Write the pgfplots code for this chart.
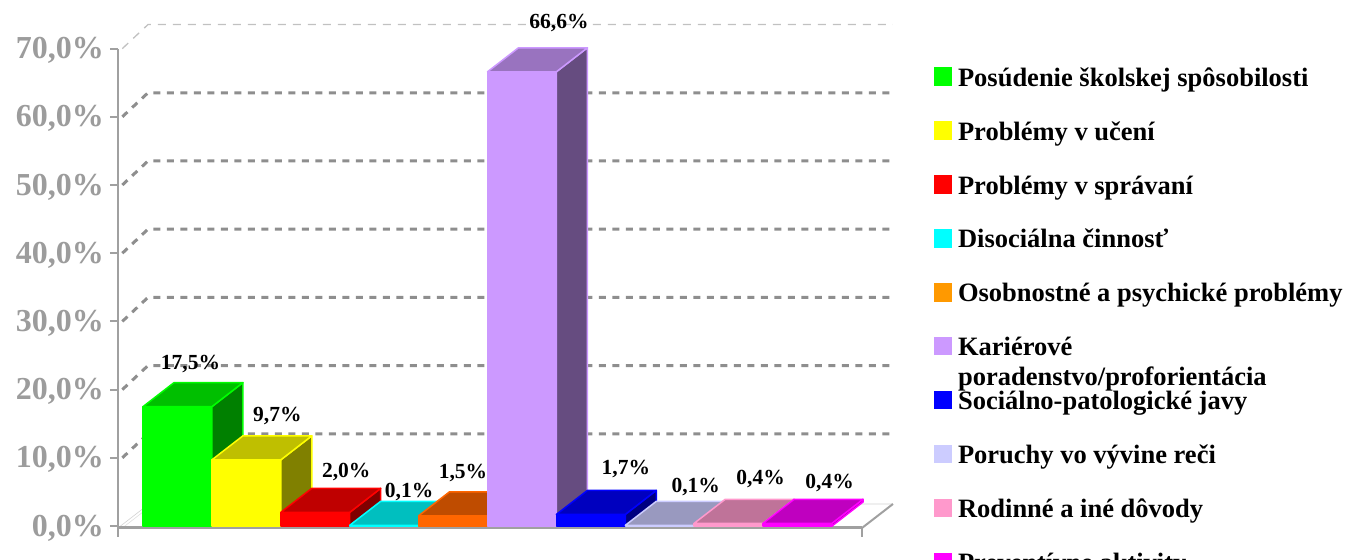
\documentclass[border=0pt]{standalone}
\usepackage{fontspec}
\setmainfont{Liberation Serif}
\usepackage{pgfplots}
\pgfplotsset{compat=1.18}

\definecolor{gridgray}{HTML}{8E8E8E}
\definecolor{axgray}{HTML}{A0A0A0}
\definecolor{lblgray}{HTML}{9C9C9C}
\definecolor{cGreen}{HTML}{00FF00}
\definecolor{cYellow}{HTML}{FFFF00}
\definecolor{cRed}{HTML}{FF0000}
\definecolor{cCyan}{HTML}{00FFFF}
\definecolor{cOrange}{HTML}{FF6600}
\definecolor{cOrangeLeg}{HTML}{FF9900}
\definecolor{cPurple}{HTML}{CC99FF}
\definecolor{cBlue}{HTML}{0000FF}
\definecolor{cLav}{HTML}{CCCCFF}
\definecolor{cPink}{HTML}{FF99CC}
\definecolor{cMag}{HTML}{FF00FF}

\newcommand\dx{0.45}
\newcommand\dy{3.52}

% #1 index, #2 value, #3 colour, #4 label xshift, #5 label yshift
\newcommand\tdbar[5]{%
  \pgfmathsetmacro\xa{#1}%
  \pgfmathsetmacro\xb{#1+1}%
  \pgfmathsetmacro\xc{#1+\dx}%
  \pgfmathsetmacro\xd{#1+1+\dx}%
  \pgfmathsetmacro\yt{#2+\dy}%
  \addplot[forget plot, fill=#3, draw=#3, line width=1.5pt, line join=round]
    coordinates {(\xa,0) (\xb,0) (\xb,#2) (\xa,#2)} -- cycle;
  \addplot[forget plot, fill=#3!50!black, draw=#3, line width=1.5pt, line join=round]
    coordinates {(\xb,0) (\xd,\dy) (\xd,\yt) (\xb,#2)} -- cycle;
  \addplot[forget plot, fill=#3!75!black, draw=#3, line width=1.5pt, line join=round]
    coordinates {(\xa,#2) (\xb,#2) (\xd,\yt) (\xc,\yt)} -- cycle;
  \node[font=\bfseries\fontsize{21.5}{24}\selectfont, inner sep=0pt, xshift=#4pt, yshift=#5pt]
    at (axis cs:#1+0.5+\dx,#2+\dy)
    {\pgfmathprintnumber[fixed,fixed zerofill,precision=1,use comma,assume math mode=true]{#2}\%};
}

\begin{document}
\begin{tikzpicture}
\begin{axis}[
  x=68.9pt, y=6.82pt,
  xmin=-0.363, xmax=10.885,
  ymin=-1.6, ymax=70,
  clip=false,
  axis x line=none,
  axis y line*=left,
  y axis line style={axgray, line width=2.5pt},
  ytick={0,10,...,70},
  tick align=outside,
  major tick length=8pt,
  tick style={axgray, line width=2pt},
  /pgf/number format/assume math mode=true,
  yticklabel={\pgfmathprintnumber[fixed,fixed zerofill,precision=1,use comma]{\tick}\%},
  yticklabel style={font=\bfseries\fontsize{32}{36}\selectfont, text=lblgray, inner sep=0pt, xshift=-6pt, yshift=-2pt},
  legend style={at={(1.0523,0.9618)}, anchor=north west, draw=none, fill=none,
    inner sep=0pt, outer sep=0pt,
    font=\bfseries\fontsize{26.5}{30}\selectfont,
    row sep=28.9pt,
    nodes={inner sep=0pt, text height=19pt, text depth=6pt},
    /tikz/every odd column/.style={column sep=6pt}},
  legend cell align=left,
  legend image code/.code={\fill[#1, draw=none] (0pt,-6.2pt) rectangle (18.5pt,12.3pt);},
]
% back wall gridlines with side connectors
\pgfplotsinvokeforeach{10,20,30,40,50,60}{
  \draw[gridgray, line width=3pt, dash pattern=on 7pt off 6.5pt]
    (axis cs:-0.30,#1) -- (axis cs:0.072,#1+\dy) -- (axis cs:10.885,#1+\dy);
}
\draw[gridgray!55, line width=1.3pt, dash pattern=on 8pt off 7pt]
  (axis cs:-0.30,70) -- (axis cs:0.072,70+\dy) -- (axis cs:10.885,70+\dy);
% floor
\draw[gray!35, line width=0.6pt] (axis cs:-0.363,-0.29) -- (axis cs:0.087,3.23) -- (axis cs:10.885,3.23);
\draw[gray!25, line width=0.6pt] (axis cs:-0.30,-0.29) -- (axis cs:0.12,3.0);
\draw[axgray, line width=2pt] (axis cs:10.435,-0.29) -- (axis cs:10.885,3.23);
\draw[axgray, line width=3pt] (axis cs:-0.363,-0.29) -- (axis cs:10.435,-0.29);
\draw[axgray, line width=2.5pt] (axis cs:10.435,-0.29) -- (axis cs:10.435,-1.6);

\tdbar{0}{17.5}{cGreen}{-18}{19}
\tdbar{1}{9.7}{cYellow}{0}{20}
\tdbar{2}{2.0}{cRed}{0}{16}
\tdbar{3}{0.1}{cCyan}{-6}{9}
\tdbar{4}{1.5}{cOrange}{-21}{19}
\tdbar{5}{66.6}{cPurple}{6}{25}
\tdbar{6}{1.7}{cBlue}{4}{21}
\tdbar{7}{0.1}{cLav}{5}{14}
\tdbar{8}{0.4}{cPink}{1}{20}
\tdbar{9}{0.4}{cMag}{1}{16}

\addlegendimage{fill=cGreen}\addlegendentry{Posúdenie školskej spôsobilosti}
\addlegendimage{fill=cYellow}\addlegendentry{Problémy v učení}
\addlegendimage{fill=cRed}\addlegendentry{Problémy v správaní}
\addlegendimage{fill=cCyan}\addlegendentry{Disociálna činnosť}
\addlegendimage{fill=cOrangeLeg}\addlegendentry{Osobnostné a psychické problémy}
\addlegendimage{fill=cPurple}\addlegendentry{\makebox[0pt][l]{\raisebox{-30pt}[0pt][0pt]{poradenstvo/proforientácia}}Kariérové}
\addlegendimage{fill=cBlue}\addlegendentry{Sociálno-patologické javy}
\addlegendimage{fill=cLav}\addlegendentry{Poruchy vo vývine reči}
\addlegendimage{fill=cPink}\addlegendentry{Rodinné a iné dôvody}
\addlegendimage{fill=cMag}\addlegendentry{Preventívne aktivity}

\coordinate (bbsw) at (axis cs:-2.0755,-4.839);
\coordinate (bbne) at (axis cs:17.4746,77.126);
\end{axis}
\pgfresetboundingbox
\path[use as bounding box] (bbsw) rectangle (bbne);
\end{tikzpicture}
\end{document}
